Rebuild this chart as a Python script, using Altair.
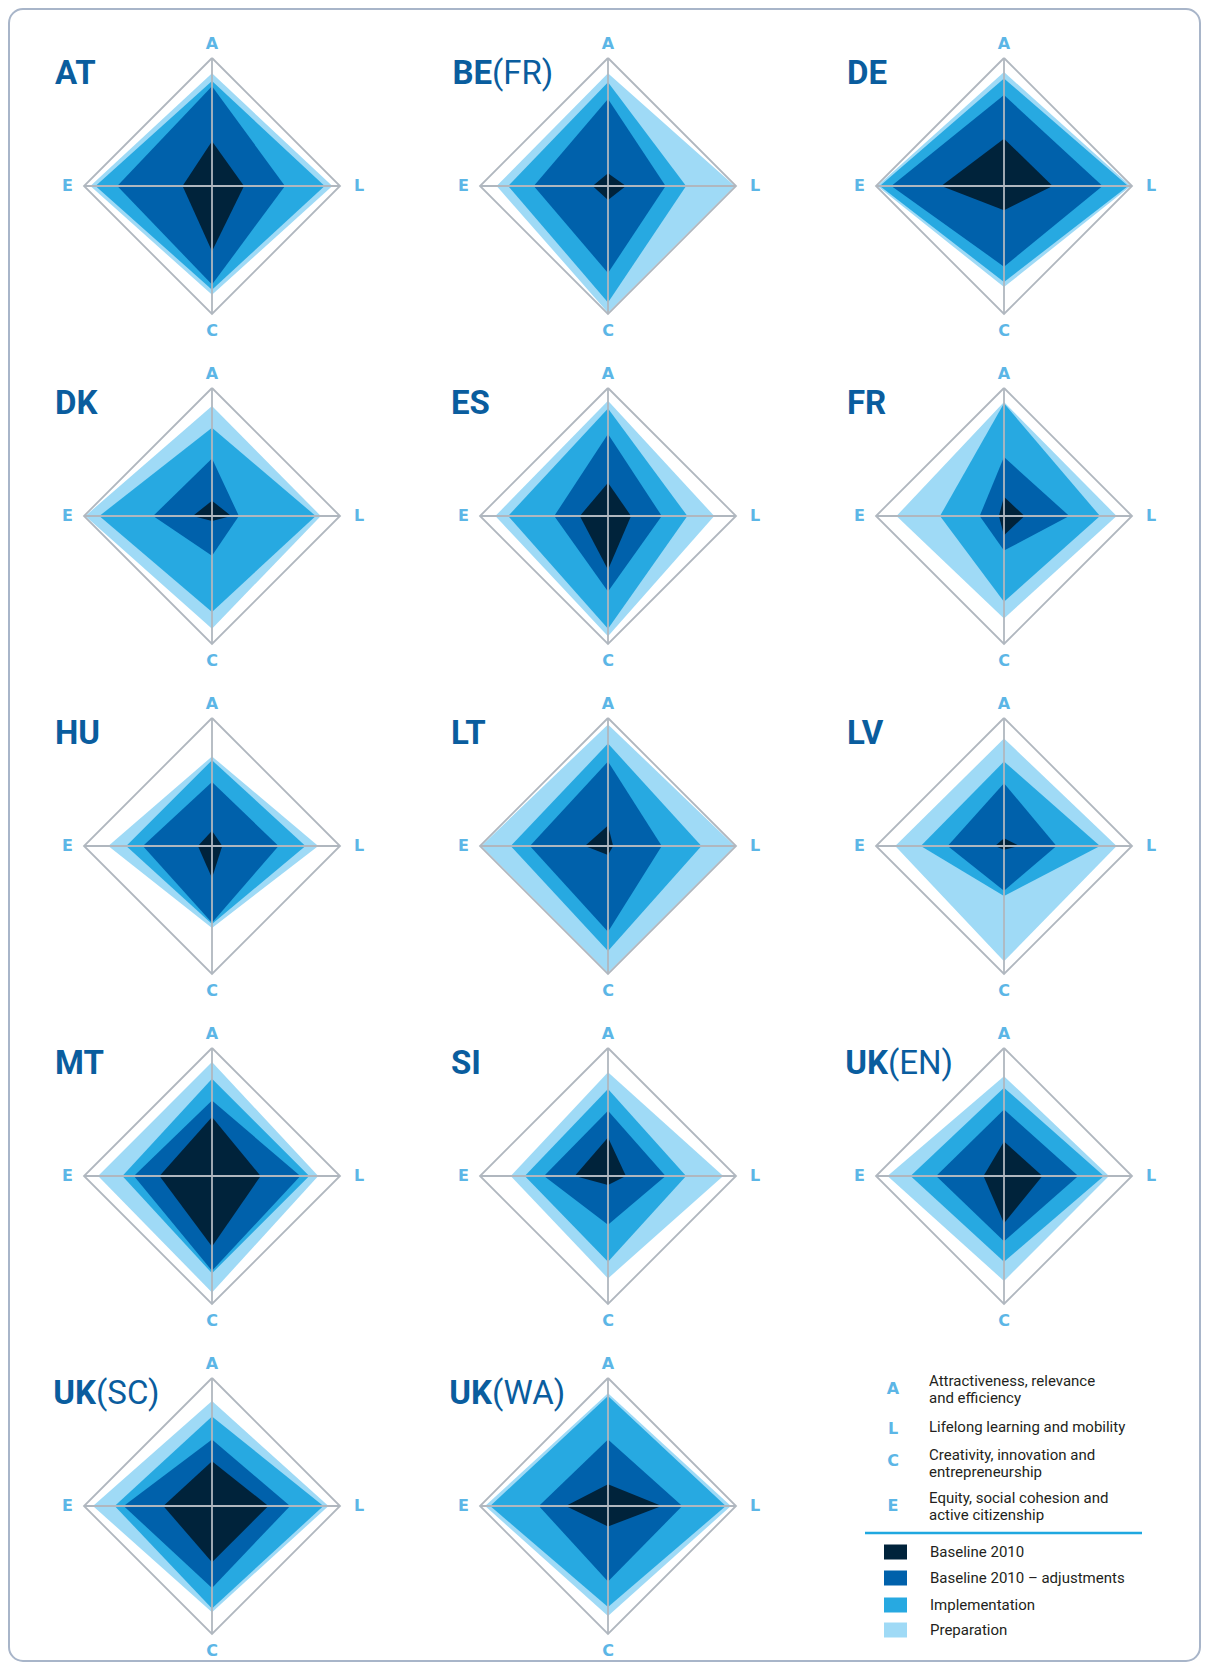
import altair as alt
import pandas as pd

# ---------------- data ----------------
countries = ["AT", "BE(FR)", "DE", "DK", "ES", "FR", "HU", "LT", "LV",
             "MT", "SI", "UK(EN)", "UK(SC)", "UK(WA)"]
axis_keys = ["A", "L", "C", "E"]
axis_desc = ["Attractiveness, relevance\nand efficiency",
             "Lifelong learning and mobility",
             "Creativity, innovation and\nentrepreneurship",
             "Equity, social cohesion and\nactive citizenship"]

# values per country in order A, L, C, E (share of full scale, %)
baseline = [[35, 25, 51, 23], [10, 14, 11, 12], [37, 38, 19, 49], [12, 15, 4, 15],
            [26, 18, 42, 22], [15, 16, 15, 4], [12, 8, 25, 11], [16, 4, 7, 18],
            [6, 12, 3, 7], [46, 38, 55, 41], [30, 14, 7, 26], [27, 30, 37, 16],
            [35, 44, 44, 38], [17, 42, 16, 33]]
adjustments = [[78, 57, 77, 74], [68, 45, 68, 58], [71, 77, 63, 88], [45, 21, 31, 46],
               [64, 42, 59, 42], [46, 51, 27, 19], [50, 52, 60, 54], [66, 42, 67, 61],
               [49, 41, 35, 44], [59, 69, 74, 61], [51, 45, 38, 50], [52, 58, 51, 53],
               [52, 61, 64, 69], [52, 58, 59, 54]]
implementation = [[82, 88, 81, 91], [81, 61, 91, 78], [84, 97, 75, 97], [69, 81, 75, 88],
                  [84, 62, 88, 78], [88, 75, 67, 50], [67, 73, 61, 67], [80, 73, 82, 76],
                  [66, 75, 39, 65], [76, 76, 76, 70], [68, 61, 67, 65], [69, 78, 67, 73],
                  [70, 87, 80, 76], [86, 92, 79, 92]]
preparation = [[88, 94, 85, 95], [88, 99, 99, 87], [89, 99, 79, 99], [86, 85, 88, 99],
               [90, 83, 94, 88], [89, 88, 80, 84], [70, 83, 64, 81], [95, 99, 99, 99],
               [84, 88, 90, 85], [89, 83, 91, 89], [81, 90, 80, 76], [78, 82, 82, 91],
               [82, 91, 83, 93], [88, 96, 86, 96]]

layer_names = ["Baseline 2010", "Baseline 2010 \u2013 adjustments", "Implementation", "Preparation"]
layer_colors = ["#00233b", "#0061ab", "#27a9e1", "#9fdaf6"]

# ---------------- style ----------------
FONT_N = "Roboto, sans-serif"
TITLE_COL = "#0a5d9e"
LETTER_COL = "#5cb6e6"
GRID_COL = "#b0b7bf"
BORDER_COL = "#a8b5c9"

W, H, H_LAST = 396, 330, 316
R = 128.0
LABEL_R = 1.13


def poly_rows(vals):
    a, l, c, e = [v / 100.0 for v in vals]
    return pd.DataFrame({"x": [-e, 0.0, l], "y": [0.0, a, 0.0], "y2": [0.0, -c, 0.0]})


def panel(i, h, with_border=False):
    xs = alt.Scale(domain=[-W / 2 / R, W / 2 / R], nice=False, zero=False)
    ys = alt.Scale(domain=[-(h - H / 2) / R, H / 2 / R], nice=False, zero=False)
    layers = []
    if with_border:
        layers.append(
            alt.Chart(pd.DataFrame({"k": [0]})).mark_rect(
                fillOpacity=0, stroke=BORDER_COL, strokeWidth=2, cornerRadius=14
            ).encode(x=alt.value(-5), x2=alt.value(1186), y=alt.value(-12), y2=alt.value(1640))
        )
    series = [preparation, implementation, adjustments, baseline]
    cols = [layer_colors[3], layer_colors[2], layer_colors[1], layer_colors[0]]
    for s, col in zip(series, cols):
        layers.append(
            alt.Chart(poly_rows(s[i])).mark_area(color=col, interpolate="linear").encode(
                x=alt.X("x:Q", scale=xs, axis=None),
                y=alt.Y("y:Q", scale=ys, axis=None, stack=None),
                y2="y2:Q",
            )
        )
    dia = pd.DataFrame({"x": [0, 1, 0, -1, 0], "y": [1, 0, -1, 0, 1], "k": [0, 1, 2, 3, 4]})
    layers.append(
        alt.Chart(dia).mark_line(color=GRID_COL, strokeWidth=1.8, strokeJoin="miter").encode(
            x=alt.X("x:Q", scale=xs, axis=None),
            y=alt.Y("y:Q", scale=ys, axis=None),
            order="k:Q",
        )
    )
    cross = pd.DataFrame({"x": [-1, 0], "x2": [1, 0], "y": [0, -1], "y2": [0, 1]})
    layers.append(
        alt.Chart(cross).mark_rule(color=GRID_COL, strokeWidth=1.8).encode(
            x=alt.X("x:Q", scale=xs, axis=None), x2="x2:Q",
            y=alt.Y("y:Q", scale=ys, axis=None), y2="y2:Q",
        )
    )
    lab = pd.DataFrame({"t": axis_keys,
                        "x": [0, LABEL_R + 0.02, 0, -LABEL_R],
                        "y": [LABEL_R - 0.02, 0, -LABEL_R, 0]})
    layers.append(
        alt.Chart(lab).mark_text(font="DejaVu Sans", fontWeight="bold", fontSize=16,
                                 color=LETTER_COL, baseline="middle", align="center").encode(
            x=alt.X("x:Q", scale=xs, axis=None),
            y=alt.Y("y:Q", scale=ys, axis=None),
            text="t:N",
        )
    )
    name = countries[i]
    if "(" in name:
        bold, rest = name.split("(", 1)
        rest = "(" + rest
    else:
        bold, rest = name, ""
    if rest:
        junction = 41 + 20.5 * len(bold)
        layers.append(
            alt.Chart(pd.DataFrame({"t": [bold]})).mark_text(
                font=FONT_N, fontWeight="bold", fontSize=33, color=TITLE_COL,
                align="right", baseline="alphabetic"
            ).encode(x=alt.value(junction), y=alt.value(63), text="t:N")
        )
        layers.append(
            alt.Chart(pd.DataFrame({"t": [rest]})).mark_text(
                font=FONT_N, fontWeight="normal", fontSize=33, color=TITLE_COL,
                align="left", baseline="alphabetic"
            ).encode(x=alt.value(junction), y=alt.value(63), text="t:N")
        )
    else:
        layers.append(
            alt.Chart(pd.DataFrame({"t": [bold]})).mark_text(
                font=FONT_N, fontWeight="bold", fontSize=33, color=TITLE_COL,
                align="left", baseline="alphabetic"
            ).encode(x=alt.value(41), y=alt.value(63), text="t:N")
        )
    return alt.layer(*layers).properties(width=W, height=h)


def legend(h):
    lay_a = pd.DataFrame({"t": axis_keys, "d": axis_desc,
                          "ly": [48, 88, 120, 165], "ty": [40, 86, 114, 157]})
    lay_b = pd.DataFrame({"n": layer_names, "c": layer_colors, "ly": [211, 237, 264, 289]})
    lay_b["y1"] = lay_b["ly"] - 7.5
    lay_b["y2"] = lay_b["ly"] + 7.5
    letters = alt.Chart(lay_a).mark_text(
        font="DejaVu Sans", fontWeight="bold", fontSize=16, color=LETTER_COL,
        align="center", baseline="middle"
    ).encode(x=alt.value(87), y=alt.Y("ly:Q", scale=None), text="t:N")
    desc = alt.Chart(lay_a).mark_text(
        font=FONT_N, fontSize=15, color="#231f20", align="left", baseline="middle",
        lineBreak="\n", lineHeight=17
    ).encode(x=alt.value(123), y=alt.Y("ty:Q", scale=None), text="d:N")
    rule = alt.Chart(pd.DataFrame({"k": [0]})).mark_rule(color="#1fa8e0", strokeWidth=2.5).encode(
        x=alt.value(59), x2=alt.value(336), y=alt.value(192))
    sw = alt.Chart(lay_b).mark_rect().encode(
        x=alt.value(78), x2=alt.value(101),
        y=alt.Y("y1:Q", scale=None), y2="y2:Q",
        color=alt.Color("c:N", scale=None))
    names = alt.Chart(lay_b).mark_text(
        font=FONT_N, fontSize=15, color="#231f20", align="left", baseline="middle"
    ).encode(x=alt.value(124), y=alt.Y("ly:Q", scale=None), text="n:N")
    return alt.layer(letters, desc, rule, sw, names).properties(width=W, height=h)


n = len(countries)
panels = [panel(i, H if i < 12 else H_LAST, with_border=(i == 0)) for i in range(n)]
cells = panels + [legend(H_LAST)]
chart = alt.concat(*cells, columns=3, spacing=0, bounds="flush").properties(
    padding=0,
    background="white",
).configure_view(stroke=None)

chart.save("out.html", embed_options={"renderer": "svg", "actions": False})
